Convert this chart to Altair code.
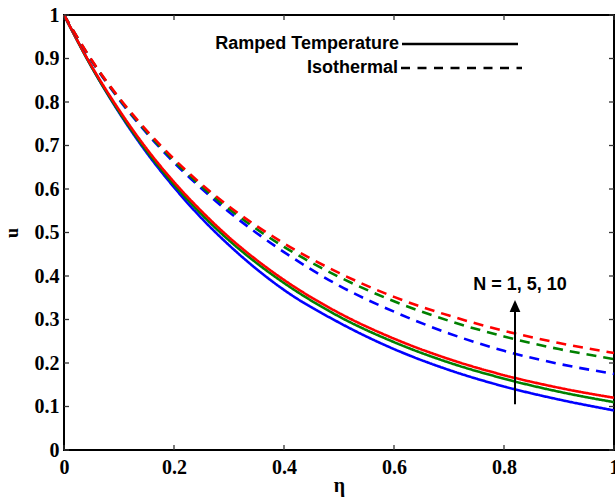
import altair as alt
import pandas as pd

# ---- data ----
eta = [0.0, 0.05, 0.1, 0.15, 0.2, 0.25, 0.3, 0.35, 0.4, 0.5, 0.6, 0.7, 0.8, 0.9, 1.0]

ramped_N1 = [1.0, 0.881, 0.776, 0.684, 0.604, 0.533, 0.471, 0.416, 0.368, 0.293, 0.232, 0.184, 0.146, 0.116, 0.091]
ramped_N5 = [1.0, 0.881, 0.778, 0.688, 0.610, 0.542, 0.482, 0.430, 0.384, 0.307, 0.248, 0.201, 0.164, 0.134, 0.110]
ramped_N10 = [1.0, 0.883, 0.782, 0.693, 0.616, 0.549, 0.489, 0.437, 0.391, 0.315, 0.256, 0.209, 0.172, 0.143, 0.120]

iso_N1 = [1.0, 0.895, 0.806, 0.729, 0.661, 0.601, 0.547, 0.499, 0.455, 0.378, 0.318, 0.268, 0.228, 0.198, 0.175]
iso_N5 = [1.0, 0.896, 0.808, 0.732, 0.665, 0.606, 0.554, 0.508, 0.467, 0.398, 0.342, 0.297, 0.261, 0.232, 0.209]
iso_N10 = [1.0, 0.897, 0.810, 0.735, 0.669, 0.611, 0.560, 0.515, 0.475, 0.407, 0.352, 0.309, 0.274, 0.246, 0.223]

x_ticks = [0, 0.2, 0.4, 0.6, 0.8, 1]
y_ticks = [0, 0.1, 0.2, 0.3, 0.4, 0.5, 0.6, 0.7, 0.8, 0.9, 1]

arrow_x = [0.82]
arrow_y0 = [0.105]
arrow_y1 = [0.331]
label_x = [0.829]
label_y = [0.379]
label_text = ["N = 1, 5, 10"]

W, H = 550, 435

series = [
    ("Ramped", "1", ramped_N1, "#0000FF"),
    ("Ramped", "5", ramped_N5, "#008000"),
    ("Ramped", "10", ramped_N10, "#FF0000"),
    ("Isothermal", "1", iso_N1, "#0000FF"),
    ("Isothermal", "5", iso_N5, "#008000"),
    ("Isothermal", "10", iso_N10, "#FF0000"),
]

xscale = alt.Scale(domain=[0, 1], nice=False, zero=False)
yscale = alt.Scale(domain=[0, 1], nice=False, zero=False)

xaxis = alt.Axis(values=x_ticks, format="~g", ticks=False, domain=False, grid=False,
                 labelFlush=False, labelOverlap=False, labelPadding=7,
                 title="η", titleY=41, titleBaseline="alphabetic",
                 titleFont="Liberation Serif", titleFontSize=20, titleFontWeight="bold")
yaxis = alt.Axis(values=y_ticks, format="~g", ticks=False, domain=False, grid=False,
                 labelFlush=False, labelOverlap=False, labelPadding=5,
                 title="u", titleX=-47, titleY=H / 2, titleAngle=-90,
                 titleAlign="center", titleBaseline="alphabetic",
                 titleFont="Liberation Serif", titleFontSize=18, titleFontWeight="bold")


def X(f):
    return alt.X(f, scale=xscale, axis=xaxis)


def Y(f):
    return alt.Y(f, scale=yscale, axis=yaxis)


layers = []
for case, n, vals, col in series:
    df = pd.DataFrame({"eta": eta, "u": vals})
    dash = [1, 0] if case == "Ramped" else [10, 7]
    layers.append(
        alt.Chart(df).mark_line(color=col, strokeWidth=2.6, strokeDash=dash,
                                interpolate="monotone").encode(x=X("eta:Q"), y=Y("u:Q"))
    )

# inward ticks on all four sides
xt = pd.DataFrame({"eta": x_ticks})
yt = pd.DataFrame({"u": y_ticks})
tick_style = dict(color="#333333", strokeWidth=1.3)
layers.append(alt.Chart(xt).mark_rule(**tick_style).encode(
    x=X("eta:Q"), y=alt.value(H), y2=alt.value(H - 5)))
layers.append(alt.Chart(xt).mark_rule(**tick_style).encode(
    x=X("eta:Q"), y=alt.value(0), y2=alt.value(5)))
layers.append(alt.Chart(yt).mark_rule(**tick_style).encode(
    y=Y("u:Q"), x=alt.value(0), x2=alt.value(5)))
layers.append(alt.Chart(yt).mark_rule(**tick_style).encode(
    y=Y("u:Q"), x=alt.value(W), x2=alt.value(W - 5)))

# arrow annotation
arr = pd.DataFrame({"eta": arrow_x, "u": arrow_y0, "u1": arrow_y1})
layers.append(alt.Chart(arr).mark_rule(color="black", strokeWidth=2).encode(
    x=X("eta:Q"), y=Y("u:Q"), y2="u1:Q"))
arr_head = pd.DataFrame({"eta": arrow_x, "u": arrow_y1})
layers.append(alt.Chart(arr_head).mark_point(
    shape="M-0.9,1 L0,-1 L0.9,1 Z", filled=True, color="black", opacity=1, size=144
).encode(x=X("eta:Q"), y=Y("u:Q")))

lab = pd.DataFrame({"eta": label_x, "u": label_y, "t": label_text})
layers.append(alt.Chart(lab).mark_text(
    font="Liberation Sans", fontWeight="bold", fontSize=18, color="black",
    align="center", baseline="middle"
).encode(x=X("eta:Q"), y=Y("u:Q"), text="t:N"))

# legend (drawn manually like the original)
one = pd.DataFrame({"a": [0]})
layers.append(alt.Chart(one).mark_text(
    font="Liberation Sans", fontWeight="bold", fontSize=18, color="black",
    align="right", baseline="middle"
).encode(x=alt.value(335), y=alt.value(29), text=alt.value("Ramped Temperature")))
layers.append(alt.Chart(one).mark_text(
    font="Liberation Sans", fontWeight="bold", fontSize=18, color="black",
    align="right", baseline="middle"
).encode(x=alt.value(334), y=alt.value(53), text=alt.value("Isothermal")))
layers.append(alt.Chart(one).mark_rule(color="black", strokeWidth=2.6).encode(
    x=alt.value(338), x2=alt.value(454), y=alt.value(29)))
layers.append(alt.Chart(one).mark_rule(color="black", strokeWidth=2.6, strokeDash=[9, 7.5]).encode(
    x=alt.value(337), x2=alt.value(458), y=alt.value(53)))

chart = alt.layer(*layers).properties(
    width=W, height=H,
    autosize=alt.AutoSizeParams(type="none"),
    padding={"left": 64, "top": 15, "right": 1, "bottom": 48},
    background="white",
).configure_view(stroke="black", strokeWidth=2).configure_axis(
    labelFont="Liberation Serif", labelFontSize=20, labelFontWeight="bold", labelColor="black",
    titleColor="black"
)

chart.save("out.html", embed_options={"renderer": "svg", "actions": False})
